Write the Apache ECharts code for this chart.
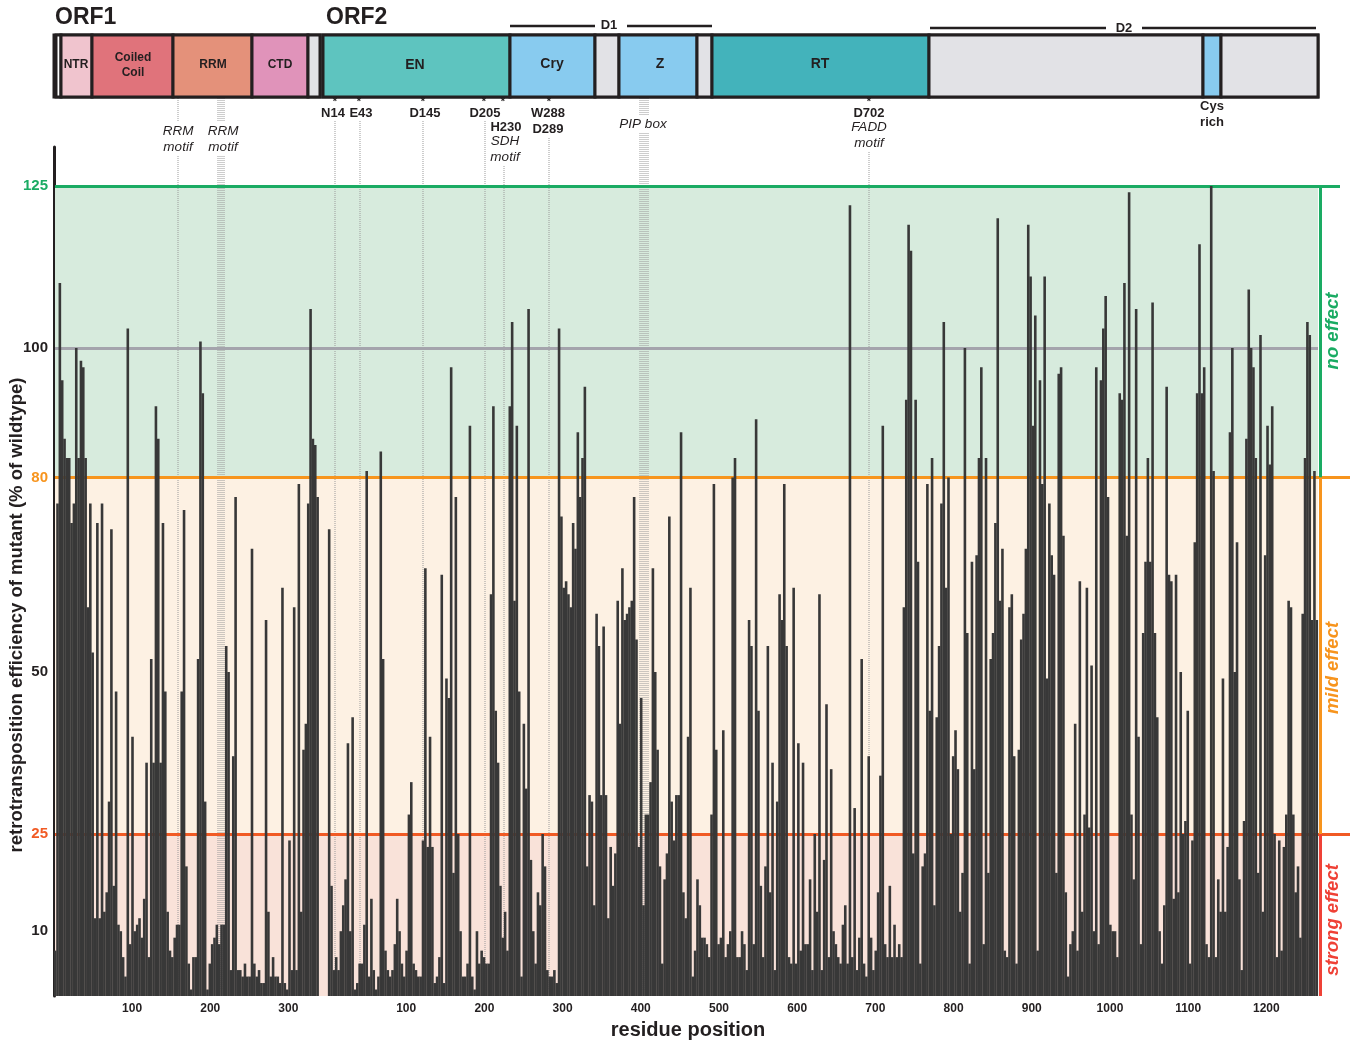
<!DOCTYPE html>
<html>
<head>
<meta charset="utf-8">
<script src="https://cdn.jsdelivr.net/npm/echarts@6/dist/echarts.min.js"></script>
<style>
  html, body { margin: 0; background: #fff; }
  #chart { width: 1354px; height: 1041px; }
</style>
</head>
<body>
<div id="chart"></div>
<script>
// retrotransposition efficiency (% of wildtype), one bar per 3-residue block
const orf1Values = [
  7,76,110,95,86,83,83,73,76,100,83,98,97,83,60,76,53,12,73,12,76,13,16,30,72,17,47,11,10,6,3,103,8,40,10,11,12,9,15,36,6,52,36,91,86,36,73,47,13,7,6,9,11,
  11,47,75,20,5,1,6,6,52,101,93,30,1,5,8,9,11,8,11,11,54,50,4,37,77,4,4,3,5,3,3,69,5,3,4,2,2,58,13,3,6,3,3,2,63,2,1,24,4,60,4,79,13,38,
  42,76,106,86,85,77
];
const orf2Values = [
  72,17,4,6,4,10,14,18,39,10,43,1,2,5,5,11,81,3,15,4,1,3,84,52,7,4,3,4,8,15,10,5,3,7,28,33,5,4,3,3,24,66,23,40,23,
  2,3,6,65,2,49,46,97,19,77,25,10,3,3,5,88,3,1,10,5,7,6,5,5,62,91,44,36,17,9,13,7,91,104,61,88,47,3,42,32,106,21,10,5,16,14,25,20,4,3,3,
  4,2,103,74,63,64,62,60,73,69,87,77,83,94,20,31,30,14,59,54,31,57,31,12,23,17,22,61,42,66,58,59,60,61,77,55,23,46,14,28,28,33,66,50,38,20,5,18,22,74,30,24,31,31,87,
  16,12,40,63,3,7,18,14,9,9,8,6,28,79,38,8,9,41,6,8,10,80,83,6,6,10,8,4,58,54,8,89,44,17,6,20,54,16,36,4,30,62,58,79,54,6,5,63,5,39,7,36,8,
  8,18,4,25,13,62,4,21,45,6,35,10,8,6,5,11,14,5,122,6,29,4,9,52,5,3,37,9,4,7,16,34,88,8,6,17,6,11,6,8,6,60,92,119,115,22,92,67,5,20,22,79,
  44,83,14,43,54,76,104,63,80,25,37,41,35,13,19,100,56,5,67,35,68,83,97,8,83,19,52,56,73,120,61,69,7,6,60,62,37,5,38,55,59,69,119,111,88,105,7,95,79,111,49,76,68,65,
  19,96,97,71,16,3,8,10,42,7,64,13,28,63,26,51,10,97,8,95,103,108,77,11,10,10,6,93,92,110,71,124,28,18,106,40,8,56,67,83,67,107,56,43,10,5,14,94,65,64,15,65,16,50,
  25,27,44,5,24,70,93,116,93,97,8,6,125,81,6,18,13,49,13,23,87,100,50,70,18,4,27,86,109,100,97,83,19,102,13,68,88,82,91,25,6,24,7,23,28,61,60,28,16,20,9,59,83,104,102,58,81,58
];
const residueStep = 3;
const orf1Length = 338;
const orf2Length = 1275;
const yTicks = [10, 25, 50, 80, 100, 125];
const thresholds = [25, 80, 100, 125];   // strong / mild / wildtype / no effect

const FONT = "'Liberation Sans', Arial, sans-serif";
const yMax = 131;
const gridTop = 147, gridBottom = 45;

const orf1Data = orf1Values.map((v, i) => [residueStep * i + 1.5, v]);
const orf2Data = orf2Values.map((v, i) => [residueStep * i + 1.5, v]);

const tickColor = { 10: '#231f20', 25: '#f15a24', 50: '#231f20', 80: '#f7941d', 100: '#231f20', 125: '#1aab63' };

// ---------- header schematic and annotations (graphic) ----------
const g = [];
function box(x0, x1, fill, z) {
  g.push({ type: 'rect', z: z || 10, shape: { x: x0, y: 35, width: x1 - x0, height: 62 },
    style: { fill: fill, stroke: '#231f20', lineWidth: 3 } });
}
function txt(x, y, t, o) {
  o = o || {};
  g.push({ type: 'text', z: 12, x: x, y: y, rotation: o.rot || 0,
    style: { text: t, x: 0, y: 0, fill: o.color || '#231f20',
      font: (o.italic ? 'italic ' : '') + (o.bold === false ? '' : 'bold ') + (o.size || 13) + 'px ' + FONT,
      textAlign: o.align || 'center', textVerticalAlign: 'middle', lineHeight: o.lh || 15 } });
}
function seg(x0, x1, y, w) {
  g.push({ type: 'line', z: 12, shape: { x1: x0, y1: y, x2: x1, y2: y }, style: { stroke: '#231f20', lineWidth: w || 2.5 } });
}
function dots(x, y0, y1) {
  g.push({ type: 'line', z: 3, shape: { x1: x, y1: y0, x2: x, y2: y1 }, style: { stroke: '#9a9a9a', lineWidth: 1, lineDash: [1, 1] } });
}
const it = { italic: true, bold: false, size: 13.5 };

// ORF1 domains
box(54, 320, '#e2e2e6');
box(56, 61, '#ffffff');
box(61, 92, '#f0c4ce');
box(92, 173, '#e0737b');
box(173, 252, '#e4917a');
box(252, 308, '#e093ba');
box(308, 320, '#e2e2e6');
// ORF2 domains
box(323, 1318, '#e2e2e6');
box(323, 510, '#5ec4bf');
box(510, 595, '#88cbef');
box(595, 619, '#e2e2e6');
box(619, 697, '#88cbef');
box(697, 712, '#e2e2e6');
box(712, 929, '#43b3bb');
box(929, 1203, '#e2e2e6');
box(1203, 1221, '#88cbef');
box(1221, 1318, '#e2e2e6');

txt(76, 65, 'NTR', { size: 12 });
txt(133, 65, 'Coiled\nCoil', { size: 12 });
txt(213, 65, 'RRM', { size: 12 });
txt(280, 65, 'CTD', { size: 12 });
txt(415, 65, 'EN', { size: 14 });
txt(552, 64, 'Cry', { size: 14 });
txt(660, 64, 'Z', { size: 14 });
txt(820, 64, 'RT', { size: 14 });

txt(55, 18, 'ORF1', { size: 23, align: 'left' });
txt(326, 18, 'ORF2', { size: 23, align: 'left' });

seg(510, 595, 26); seg(627, 712, 26); txt(609, 25, 'D1', { size: 13 });
seg(930, 1106, 28); seg(1142, 1316, 28); txt(1124, 28, 'D2', { size: 13 });

// dotted guide lines (drawn under bars)
[178].forEach(x => { dots(x, 98, 122); dots(x, 156, 990); });
[218, 220, 222, 224].forEach(x => { dots(x, 98, 122); dots(x, 156, 990); });
[335, 360, 423, 485].forEach(x => dots(x, 121, 990));
dots(504, 166, 990);
dots(549, 138, 990);
[640, 642, 644, 646, 648].forEach(x => { dots(x, 98, 115); dots(x, 133, 990); });
dots(869, 152, 990);

txt(178, 131, 'RRM', it);
txt(178, 147, 'motif', it);
txt(223, 131, 'RRM', it);
txt(223, 147, 'motif', it);
txt(333, 113, 'N14');
txt(361, 113, 'E43');
txt(425, 113, 'D145');
txt(485, 113, 'D205');
[335, 359, 423, 484, 503, 549, 869].forEach(x => txt(x, 102, '*', { size: 11 }));
txt(506, 127, 'H230');
txt(505, 141, 'SDH', it);
txt(505, 157, 'motif', it);
txt(548, 113, 'W288');
txt(548, 129, 'D289');
txt(643, 124, 'PIP box', it);
txt(869, 113, 'D702');
txt(869, 127, 'FADD', it);
txt(869, 143, 'motif', it);
txt(1212, 106, 'Cys');
txt(1212, 122, 'rich');

// axis titles and effect labels
txt(17, 615, 'retrotransposition efficiency of mutant (% of wildtype)', { size: 18.5, rot: Math.PI / 2 });
txt(688, 1030, 'residue position', { size: 20 });
txt(1333, 331, 'no effect', { size: 18.5, italic: true, color: '#1aab63', rot: Math.PI / 2 });
txt(1333, 668, 'mild effect', { size: 18.5, italic: true, color: '#f7941d', rot: Math.PI / 2 });
txt(1333, 920, 'strong effect', { size: 18.5, italic: true, color: '#ef4136', rot: Math.PI / 2 });

// ---------- chart ----------
const chart = echarts.init(document.getElementById('chart'));

const hLine = (y, x1, color) => [{ coord: [1, y], lineStyle: { color: color, width: 3, type: 'solid' } }, { coord: [x1, y] }];
const vLine = (x, y0, y1, color) => [{ coord: [x, y0], lineStyle: { color: color, width: 3, type: 'solid' } }, { coord: [x, y1] }];

const xFmt = v => (v > 0 && v % 100 === 0) ? String(v) : '';
const xAxisStyle = {
  type: 'value', interval: 100, min: 0,
  axisLine: { show: false }, axisTick: { show: false }, splitLine: { show: false },
  axisLabel: { formatter: xFmt, color: '#231f20', fontFamily: FONT, fontWeight: 'bold', fontSize: 12, margin: 7 }
};
const yHidden = { type: 'value', min: 0, max: yMax, show: false, splitLine: { show: false } };

chart.setOption({
  animation: false,
  backgroundColor: '#ffffff',
  grid: [
    { left: 54, right: 4, top: gridTop, bottom: gridBottom },          // background (bands, thresholds)
    { left: 54, width: 264, top: gridTop, bottom: gridBottom },        // ORF1
    { left: 328, width: 997, top: gridTop, bottom: gridBottom }        // ORF2
  ],
  xAxis: [
    { gridIndex: 0, type: 'value', min: 0, max: 1296, show: false },
    Object.assign({ gridIndex: 1, max: orf1Length }, xAxisStyle),
    Object.assign({ gridIndex: 2, max: orf2Length }, xAxisStyle)
  ],
  yAxis: [
    {
      gridIndex: 0, type: 'value', min: 0, max: yMax, interval: 5,
      axisLine: { show: true, lineStyle: { color: '#231f20', width: 3 } },
      axisTick: { show: false }, splitLine: { show: false },
      axisLabel: {
        margin: 6, showMaxLabel: false,
        formatter: v => yTicks.indexOf(v) >= 0 ? '{t' + v + '|' + v + '}' : '',
        rich: Object.fromEntries(yTicks.map(v => ['t' + v,
          { color: tickColor[v], fontFamily: FONT, fontWeight: 'bold', fontSize: 15 }]))
      }
    },
    Object.assign({ gridIndex: 1 }, yHidden),
    Object.assign({ gridIndex: 2 }, yHidden)
  ],
  graphic: { elements: g },
  series: [
    {
      type: 'line', xAxisIndex: 0, yAxisIndex: 0, z: 1, silent: true,
      data: [[0, -5]], showSymbol: false, lineStyle: { opacity: 0 },
      markArea: {
        silent: true,
        data: [
          [{ xAxis: 1, yAxis: thresholds[1], itemStyle: { color: '#d7ebdd' } }, { xAxis: 1264, yAxis: thresholds[3] }],
          [{ xAxis: 1, yAxis: thresholds[0], itemStyle: { color: '#fdf1e3' } }, { xAxis: 1264, yAxis: thresholds[1] }],
          [{ xAxis: 1, yAxis: 0, itemStyle: { color: '#f9e2d9' } }, { xAxis: 1264, yAxis: thresholds[0] }]
        ]
      },
      markLine: {
        silent: true, symbol: ['none', 'none'], label: { show: false },
        data: [
          hLine(thresholds[3], 1286, '#1aab63'),
          hLine(thresholds[2], 1264, '#a4a4ac'),
          hLine(thresholds[1], 1296, '#f7941d'),
          hLine(thresholds[0], 1296, '#f15a24'),
          vLine(1266, thresholds[3], thresholds[1], '#1aab63'),
          vLine(1266, thresholds[1], thresholds[0], '#f7941d'),
          vLine(1266, thresholds[0], 0, '#ef4136')
        ]
      }
    },
    {
      type: 'bar', xAxisIndex: 1, yAxisIndex: 1, z: 5, data: orf1Data,
      barWidth: 2.6, itemStyle: { color: '#383838' }
    },
    {
      type: 'bar', xAxisIndex: 2, yAxisIndex: 2, z: 5, data: orf2Data,
      barWidth: 2.6, itemStyle: { color: '#383838' }
    }
  ]
});
</script>
</body>
</html>
